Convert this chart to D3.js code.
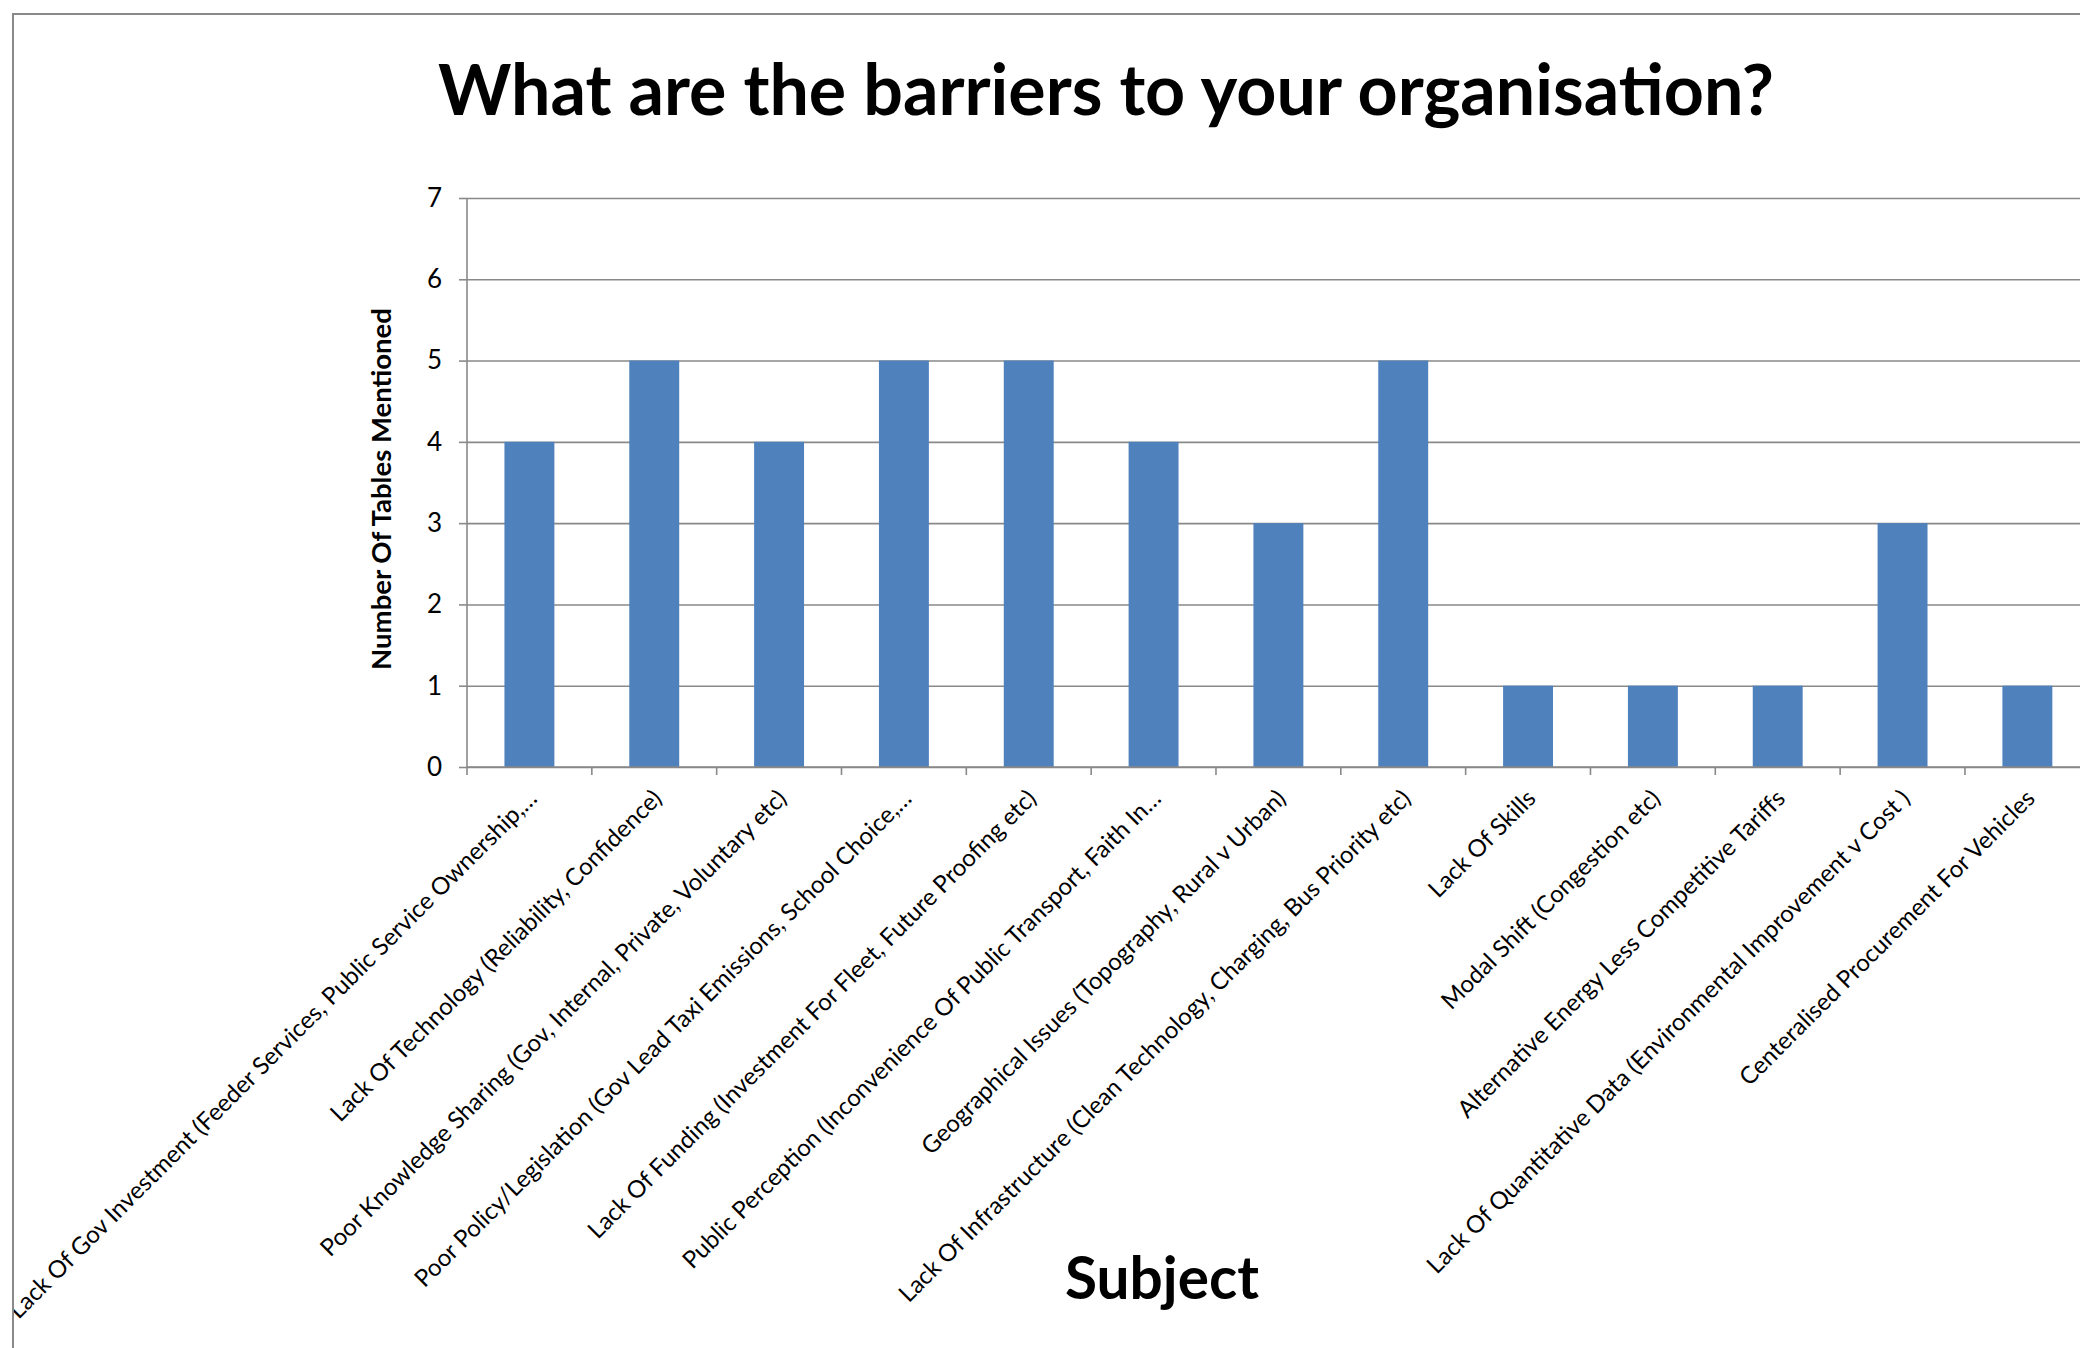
<!DOCTYPE html>
<html><head><meta charset="utf-8">
<script src="https://cdn.jsdelivr.net/npm/d3@7"></script>
<style>body{margin:0;background:#fff;overflow:hidden}</style>
</head><body>
<svg id="chart" width="2080" height="1348"></svg>
<script>
const categories = [
  "Lack Of Gov Investment (Feeder Services, Public Service Ownership,…",
  "Lack Of Technology (Reliability, Confidence)",
  "Poor Knowledge Sharing (Gov, Internal, Private, Voluntary etc)",
  "Poor Policy/Legislation (Gov Lead Taxi Emissions, School Choice,…",
  "Lack Of Funding (Investment For Fleet, Future Proofing etc)",
  "Public Perception (Inconvenience Of Public Transport, Faith In…",
  "Geographical Issues (Topography, Rural v Urban)",
  "Lack Of Infrastructure (Clean Technology, Charging, Bus Priority etc)",
  "Lack Of Skills",
  "Modal Shift (Congestion etc)",
  "Alternative Energy Less Competitive Tariffs",
  "Lack Of Quantitative Data (Environmental Improvement v Cost )",
  "Centeralised Procurement For Vehicles"
];
const values = [4, 5, 4, 5, 5, 4, 3, 5, 1, 1, 1, 3, 1];
const yTickValues = [0, 1, 2, 3, 4, 5, 6, 7];
const chartTitle = "What are the barriers to your organisation?";
const xTitle = "Subject";
const yTitle = "Number Of Tables Mentioned";

const FONT = "Lato, 'Open Sans', sans-serif";
const W = 2080, H = 1348;
const GRID = "#898989";
const plot = {left: 467, top: 198, bottom: 767, right: 467 + 13 * 124.83};

const svg = d3.select("#chart");
svg.append("rect").attr("width", W).attr("height", H).attr("fill", "#fff");
svg.append("defs").append("clipPath").attr("id", "area")
  .append("rect").attr("x", 14).attr("y", 15).attr("width", W).attr("height", H);
const g = svg.append("g").attr("clip-path", "url(#area)");

const x = d3.scaleBand().domain(categories).range([plot.left, plot.right])
  .paddingInner(0.6).paddingOuter(0.3);
const y = d3.scaleLinear().domain([0, 7]).range([plot.bottom, plot.top]);

function fit(sel, target) {
  const w = sel.node().getComputedTextLength();
  const fs = parseFloat(sel.attr("font-size"));
  const nf = fs * target / w;
  sel.attr("font-size", nf);
  return nf;
}

// gridlines
const grid = g.append("g").attr("transform", `translate(${plot.left},0)`)
  .call(d3.axisLeft(y).tickValues(yTickValues).tickSize(-(plot.right - plot.left)).tickFormat(""));
grid.select(".domain").remove();
grid.selectAll("line").attr("stroke", GRID).attr("stroke-width", 1.6);

// bars
g.append("g").selectAll("rect").data(values).join("rect")
  .attr("x", (d, i) => x(categories[i]))
  .attr("width", x.bandwidth())
  .attr("y", d => y(d))
  .attr("height", d => y(0) - y(d))
  .attr("fill", "#4F81BD");

// y axis
const yAx = g.append("g").attr("transform", `translate(${plot.left},0)`)
  .call(d3.axisLeft(y).tickValues(yTickValues).tickSize(8).tickPadding(17).tickFormat(d3.format("d")));
yAx.select(".domain").attr("stroke", GRID).attr("stroke-width", 1.6).attr("d", `M0,${plot.top}V${plot.bottom}`);
yAx.selectAll("line").attr("stroke", GRID).attr("stroke-width", 1.6);
yAx.selectAll("text").attr("font-family", FONT).attr("font-size", 26).attr("fill", "#000");

// x axis line + boundary ticks
const xAx = g.append("g");
xAx.append("line").attr("x1", plot.left).attr("x2", plot.right).attr("y1", plot.bottom).attr("y2", plot.bottom)
  .attr("stroke", GRID).attr("stroke-width", 1.6);
const bounds = categories.map(c => x(c) - x.step() * x.paddingOuter()).concat([plot.right]);
xAx.selectAll("line.tk").data(bounds).join("line").attr("class", "tk")
  .attr("x1", d => d).attr("x2", d => d).attr("y1", plot.bottom).attr("y2", plot.bottom + 8)
  .attr("stroke", GRID).attr("stroke-width", 1.6);

// x labels
const xl = g.append("g").selectAll("text").data(categories).join("text")
  .attr("transform", c => `translate(${x(c) + x.bandwidth() / 2 + 9},${plot.bottom + 33}) rotate(-45)`)
  .attr("text-anchor", "end")
  .attr("font-family", FONT).attr("font-size", 26).attr("fill", "#000")
  .text(c => c);
const ref = xl.filter((c, i) => i === 0);
const fs = fit(ref, 736);
xl.attr("font-size", fs);

// title
const t = g.append("text").attr("x", 1106).attr("y", 115).attr("text-anchor", "middle")
  .attr("font-family", FONT).attr("font-weight", 700).attr("font-size", 72).attr("fill", "#000")
  .text(chartTitle);
fit(t, 1336);

// y title
const yt = g.append("text").attr("transform", "translate(391,489) rotate(-90)").attr("text-anchor", "middle")
  .attr("font-family", FONT).attr("font-weight", 700).attr("font-size", 28).attr("fill", "#000")
  .text(yTitle);
fit(yt, 362);

// x title
const xt = g.append("text").attr("x", 1162).attr("y", 1299).attr("text-anchor", "middle")
  .attr("font-family", FONT).attr("font-weight", 700).attr("font-size", 60).attr("fill", "#000")
  .text(xTitle);
fit(xt, 194);

// chart frame (only top/left visible in the crop)
svg.append("rect").attr("x", 13).attr("y", 14).attr("width", W + 50).attr("height", H + 50)
  .attr("fill", "none").attr("stroke", GRID).attr("stroke-width", 2);
</script>
</body></html>
